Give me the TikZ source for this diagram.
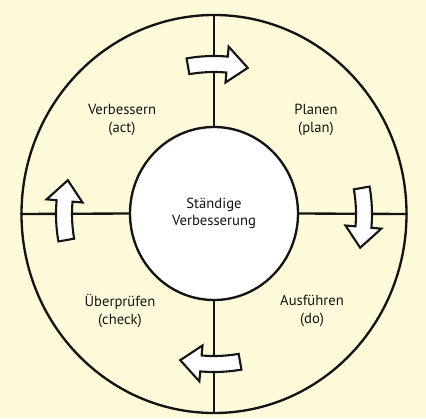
\documentclass[tikz,border=0pt]{standalone}
\usepackage{fontspec}
\setmainfont{PT Sans}
\usepackage{xcolor}
\usepackage{tikz}
\usetikzlibrary{shapes.geometric, calc}
\definecolor{paper}{RGB}{255, 251, 218}
\definecolor{ink}{RGB}{20, 20, 20}

% curved block arrow on the ring: #1 = screen angle of the spoke (clockwise)
\newcommand{\ringarrow}[1]{%
  \pgfmathsetmacro{\ta}{#1-10}\pgfmathsetmacro{\hb}{#1+5}\pgfmathsetmacro{\tp}{#1+13}%
  \draw[turnarrow] ($(hub)+(\ta:142)$) arc[start angle=\ta, end angle=\hb, radius=142]
    -- ($(hub)+(\hb:132)$) -- ($(hub)+(\tp:150)$) -- ($(hub)+(\hb:168)$)
    -- ($(hub)+(\hb:158)$) arc[start angle=\hb, end angle=\ta, radius=158] -- cycle;%
}

\begin{document}
\begin{tikzpicture}[
    x=0.03cm, y=-0.03cm,
    % Shape Styles
    ring/.style={ellipse, draw=ink, line width=2pt, minimum width=11.55cm, minimum height=11.94cm},
    corebox/.style={ellipse, draw=ink, fill=white, line width=2pt, minimum width=5.04cm, minimum height=5.19cm, align=center, font=\fontsize{12.5}{15}\selectfont, text=ink},
    phase/.style={align=center, font=\fontsize{12.5}{15}\selectfont, text=ink, inner sep=1pt},
    % Line Styles
    spoke/.style={draw=ink, line width=2pt},
    turnarrow/.style={draw=ink, fill=white, line width=1.8pt, line join=miter}
]

    % =========================================================================
    % BACKGROUND
    % =========================================================================
    \fill[paper] (0,0) rectangle (426,418);
    \useasboundingbox (0,0) rectangle (426,418);
    \coordinate (hub) at (214,214);

    % =========================================================================
    % RINGS
    % =========================================================================
    \node (rim) [ring] at (hub) {};
    \node (core) [corebox] at (214,213.5) {St\"andige\\Verbesserung};

    % =========================================================================
    % PHASES
    % =========================================================================
    \node (act_lbl)   [phase] at (122,120) {Verbessern\\(act)};
    \node (plan_lbl)  [phase] at (316,120) {Planen\\(plan)};
    \node (check_lbl) [phase] at (120,311) {\"Uberpr\"ufen\\(check)};
    \node (do_lbl)    [phase] at (312,311) {Ausf\"uhren\\(do)};

    % =========================================================================
    % SPOKES
    % =========================================================================
    \draw[spoke] (core.north) -- (rim.north);
    \draw[spoke] (core.east)  -- (rim.east);
    \draw[spoke] (core.south) -- (rim.south);
    \draw[spoke] (core.west)  -- (rim.west);

    % =========================================================================
    % CYCLE ARROWS (clockwise)
    % =========================================================================
    \ringarrow{-90}
    \ringarrow{0}
    \ringarrow{90}
    \ringarrow{180}

\end{tikzpicture}
\end{document}
